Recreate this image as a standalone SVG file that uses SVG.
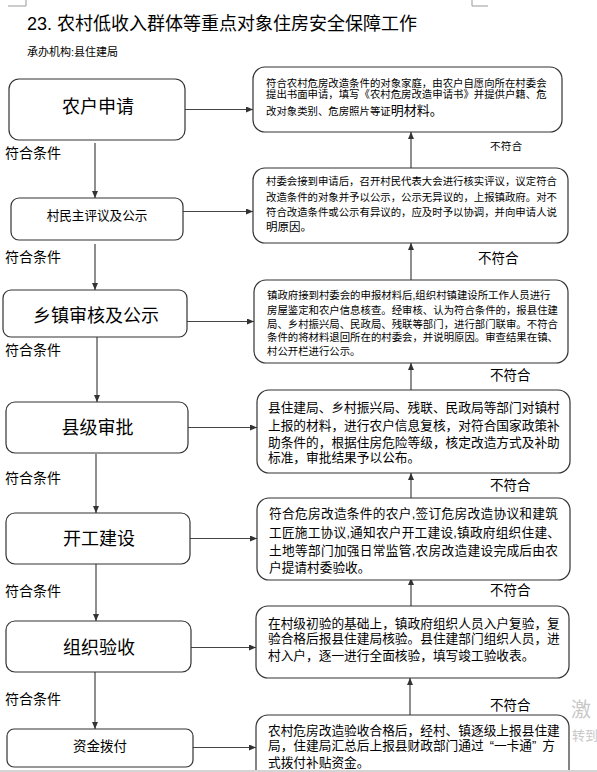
<svg xmlns="http://www.w3.org/2000/svg" width="597" height="772" viewBox="0 0 597 772">
<defs>
<marker id="ah" markerUnits="userSpaceOnUse" markerWidth="7" markerHeight="6" refX="7" refY="3" orient="auto">
<path d="M0,0 L7,3 L0,6 z" fill="#333"/>
</marker>
<style>
text{font-family:"Liberation Sans","Noto Sans CJK SC",sans-serif;fill:#000}
.lb{fill:#fff;stroke:#333;stroke-width:1.2}
.rb{fill:#fff;stroke:#333;stroke-width:1.2}
.big{font-size:18px;text-anchor:middle}
.s{font-size:10.4px}
.m{font-size:12.7px}
.cond{font-size:14px}
.no{font-size:13.5px}
.conn line{stroke:#444;stroke-width:1.2;marker-end:url(#ah)}
.mark{stroke:#999;stroke-width:1;fill:none}
</style>
</defs>
<rect width="597" height="772" fill="#fff"/>
<path class="mark" d="M26,0 V6 H8 M472,0 V6 H488"/>
<text x="27" y="30" style="font-size:18px">23. 农村低收入群体等重点对象住房安全保障工作</text>
<text x="27" y="56" style="font-size:11px">承办机构:县住建局</text>

<g class="conn">
<line x1="95" y1="143" x2="95" y2="198"/>
<line x1="95" y1="244" x2="95" y2="290"/>
<line x1="97" y1="337" x2="97" y2="402"/>
<line x1="96" y1="454" x2="96" y2="513"/>
<line x1="96" y1="564" x2="96" y2="621"/>
<line x1="95" y1="672" x2="95" y2="729"/>
<line x1="185" y1="109.5" x2="253" y2="109.5"/>
<line x1="183" y1="211.5" x2="253" y2="211.5"/>
<line x1="187" y1="321.5" x2="254" y2="321.5"/>
<line x1="188" y1="427.5" x2="257" y2="427.5"/>
<line x1="190" y1="538.5" x2="257" y2="538.5"/>
<line x1="191" y1="647.5" x2="256" y2="647.5"/>
<line x1="193" y1="747.5" x2="256" y2="747.5"/>
<line x1="411" y1="168" x2="411" y2="132"/>
<line x1="411" y1="280" x2="411" y2="243"/>
<line x1="411" y1="390" x2="411" y2="363"/>
<line x1="411" y1="498" x2="411" y2="473"/>
<line x1="411" y1="606" x2="411" y2="578"/>
<line x1="410" y1="715" x2="410" y2="678"/>
</g>

<g id="cond-labels">
<text class="cond" x="5" y="158">符合条件</text>
<text class="cond" x="5" y="262">符合条件</text>
<text class="cond" x="5" y="355">符合条件</text>
<text class="cond" x="5" y="483">符合条件</text>
<text class="cond" x="5" y="596">符合条件</text>
<text class="cond" x="5" y="704">符合条件</text>
<text x="490" y="150" style="font-size:10.7px">不符合</text>
<text class="no" x="478" y="263">不符合</text>
<text class="no" x="490" y="380">不符合</text>
<text class="no" x="490" y="490">不符合</text>
<text class="no" x="490" y="595">不符合</text>
<text class="no" x="490" y="710">不符合</text>
</g>

<g id="n1"><rect class="lb" x="9" y="79" width="176" height="61" rx="10"/><text class="big" x="98" y="112.5">农户申请</text></g>
<g id="n2"><rect class="lb" x="11" y="198" width="172" height="42" rx="8"/><text x="97" y="219.5" style="font-size:12.6px;text-anchor:middle">村民主评议及公示</text></g>
<g id="n3"><rect class="lb" x="3" y="290" width="184" height="47" rx="8"/><text class="big" x="96" y="321.5">乡镇审核及公示</text></g>
<g id="n4"><rect class="lb" x="6" y="402" width="182" height="51" rx="9"/><text class="big" x="97.5" y="433.5">县级审批</text></g>
<g id="n5"><rect class="lb" x="6" y="513" width="184" height="51" rx="9"/><text class="big" x="99" y="544.5">开工建设</text></g>
<g id="n6"><rect class="lb" x="6" y="621" width="185" height="51" rx="9"/><text class="big" x="99" y="653.5">组织验收</text></g>
<g id="n7"><rect class="lb" x="7" y="729" width="186" height="38" rx="7"/><text x="100" y="751" style="font-size:13.5px;text-anchor:middle">资金拨付</text></g>

<g id="d1"><rect class="rb" x="253" y="67" width="309" height="65" rx="12"/>
<text class="s" x="266" y="86.5">符合农村危房改造条件的对象家庭，由农户自愿向所在村委会</text>
<text class="s" x="266" y="98">提出书面申请，填写《农村危房改造申请书》并提供户籍、危</text>
<text class="s" x="266" y="115">改对象类别、危房照片等证<tspan style="font-size:13px">明材料。</tspan></text>
</g>
<g id="d2"><rect class="rb" x="253" y="168" width="315" height="75" rx="12"/>
<text class="s" x="266" y="185">村委会接到申请后，召开村民代表大会进行核实评议，议定符合</text>
<text class="s" x="266" y="201">改造条件的对象并予以公示，公示无异议的，上报镇政府。对不</text>
<text class="s" x="266" y="216">符合改造条件或公示有异议的，应及时予以协调，并向申请人说</text>
<text x="266" y="230.5" style="font-size:11.5px">明原因。</text>
</g>
<g id="d3"><rect class="rb" x="254" y="280" width="314" height="83" rx="12"/>
<text class="s" x="267" y="299">镇政府接到村委会的申报材料后,组织村镇建设所工作人员进行</text>
<text class="s" x="267" y="314">房屋鉴定和农户信息核查。经审核、认为符合条件的，报县住建</text>
<text class="s" x="267" y="327.5">局、乡村振兴局、民政局、残联等部门，进行部门联审。不符合</text>
<text class="s" x="267" y="341">条件的将材料退回所在的村委会，并说明原因。审查结果在镇、</text>
<text class="s" x="267" y="354.5">村公开栏进行公示。</text>
</g>
<g id="d4"><rect class="rb" x="257" y="390" width="313" height="83" rx="12"/>
<text class="m" x="268" y="412">县住建局、乡村振兴局、残联、民政局等部门对镇村</text>
<text class="m" x="268" y="430">上报的材料，进行农户信息复核，对符合国家政策补</text>
<text class="m" x="268" y="447">助条件的，根据住房危险等级，核定改造方式及补助</text>
<text class="m" x="268" y="462">标准，审批结果予以公布。</text>
</g>
<g id="d5"><rect class="rb" x="257" y="498" width="313" height="82" rx="12"/>
<text class="m" x="269" y="518" textLength="289" lengthAdjust="spacing">符合危房改造条件的农户,签订危房改造协议和建筑</text>
<text class="m" x="269" y="537" textLength="291" lengthAdjust="spacing">工匠施工协议,通知农户开工建设,镇政府组织住建、</text>
<text class="m" x="269" y="555" textLength="289" lengthAdjust="spacing">土地等部门加强日常监管,农房改造建设完成后由农</text>
<text class="m" x="269" y="572">户提请村委验收。</text>
</g>
<g id="d6"><rect class="rb" x="256" y="606" width="313" height="72" rx="12"/>
<text class="m" x="268" y="628">在村级初验的基础上，镇政府组织人员入户复验，复</text>
<text class="m" x="268" y="643">验合格后报县住建局核验。县住建部门组织人员，进</text>
<text class="m" x="268" y="660">村入户，逐一进行全面核验，填写竣工验收表。</text>
</g>
<g id="d7"><rect class="rb" x="256" y="715" width="313" height="75" rx="12"/>
<text class="m" x="268" y="735">农村危房改造验收合格后，经村、镇逐级上报县住建</text>
<text class="m" x="268" y="750">局，住建局汇总后上报县财政部门通过<tspan dx="6">“</tspan>一卡通”<tspan dx="6">方</tspan></text>
<text class="m" x="268" y="767">式拨付补贴资金。</text>
</g>

<text x="571" y="717" style="font-size:20px;fill:#c8c8c8">激</text>
<text x="572" y="740" style="font-size:13px;fill:#c8c8c8">转到</text>
<rect x="0" y="770" width="597" height="2" fill="#d4d4d4"/>
</svg>
